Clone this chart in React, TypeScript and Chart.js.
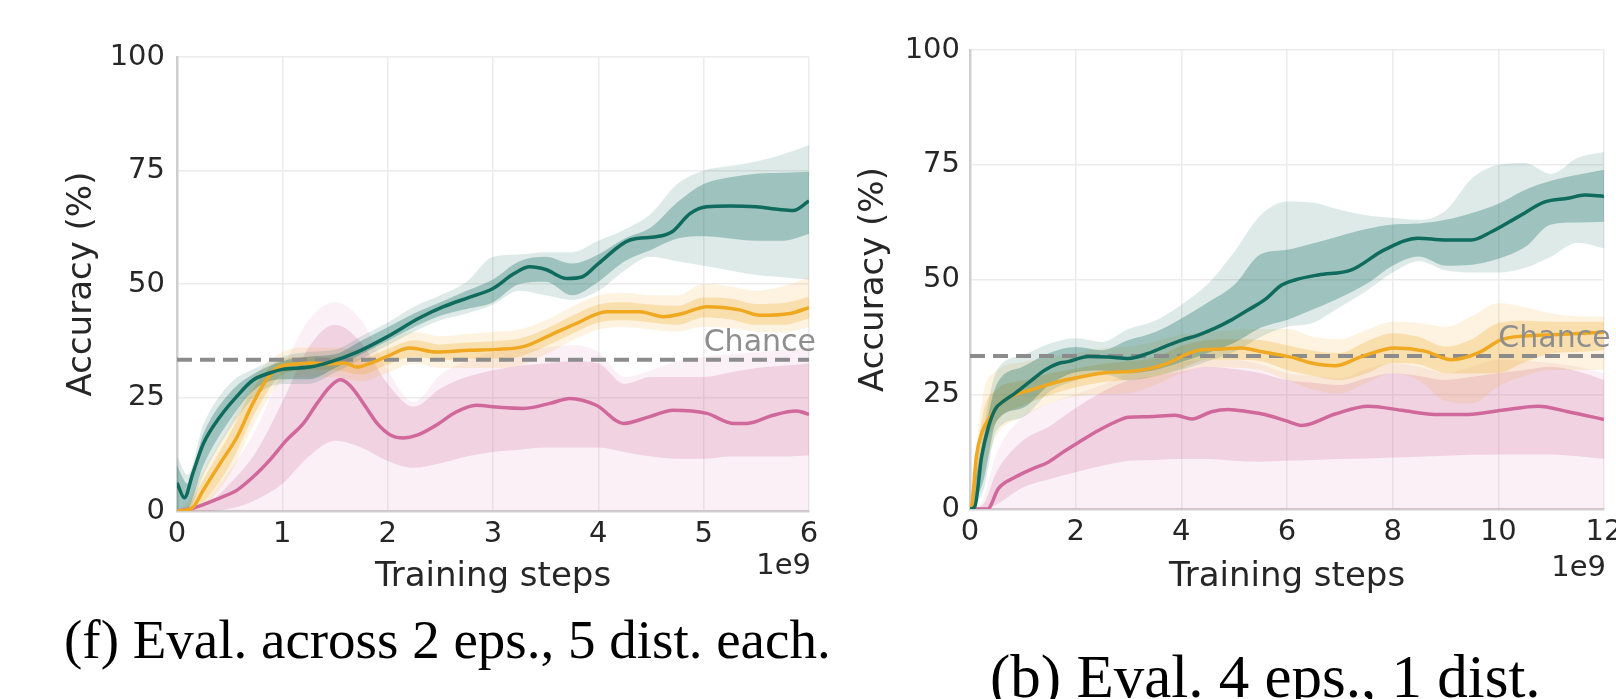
import React, { useEffect, useRef } from "react";
import Chart from "chart.js/auto";

// ---------- Panel (f): Eval. across 2 eps., 5 dist. each ----------
const fXTicks = [0, 1, 2, 3, 4, 5, 6];
const yTicks = [0, 25, 50, 75, 100];
const chanceLevel = 33.33;

const fGreenX = [0, 0.07, 0.15, 0.25, 0.41, 0.57, 0.72, 0.88, 1.0, 1.26, 1.45, 1.71, 1.99, 2.3, 2.53, 2.78, 3.0, 3.2, 3.35, 3.5, 3.7, 3.85, 4.0, 4.3, 4.55, 4.7, 4.87, 5.03, 5.25, 5.5, 5.72, 5.85, 6.0];
const fGreenY = [6.2, 2.9, 8.3, 14.8, 20.8, 25.3, 28.8, 30.4, 31.2, 31.7, 32.8, 35, 38.3, 42.5, 45, 47.1, 49, 52.3, 53.8, 53.2, 51.2, 51.6, 54.5, 59.7, 60.4, 61.5, 65.5, 67, 67.2, 67, 66.4, 66.2, 68.3];

const fOrangeX = [0, 0.14, 0.25, 0.41, 0.57, 0.72, 0.85, 0.95, 1.14, 1.3, 1.43, 1.59, 1.71, 1.84, 1.99, 2.21, 2.46, 2.78, 3.03, 3.29, 3.54, 3.79, 4.08, 4.39, 4.62, 4.8, 5.03, 5.34, 5.53, 5.82, 6.0];
const fOrangeY = [0, 0.6, 4.6, 10.5, 16.3, 23.7, 28.9, 31.5, 32.4, 32.6, 32.4, 32.6, 31.7, 32.6, 34, 35.9, 35, 35.4, 35.6, 36.2, 38.7, 41.3, 43.9, 43.9, 42.8, 43.5, 45, 44.3, 43.1, 43.5, 44.8];

const fPinkX = [0, 0.15, 0.41, 0.57, 0.76, 0.88, 1.04, 1.2, 1.33, 1.45, 1.55, 1.64, 1.77, 1.9, 2.03, 2.15, 2.28, 2.46, 2.65, 2.84, 3.03, 3.29, 3.54, 3.73, 3.98, 4.24, 4.49, 4.71, 5.03, 5.28, 5.41, 5.66, 5.88, 6.0];
const fPinkY = [0, 0.6, 2.9, 4.6, 8.3, 11.2, 15.6, 19.3, 23.7, 27.3, 28.9, 27.7, 23.7, 19.3, 16.7, 16.1, 16.7, 18.9, 21.8, 23.3, 22.9, 22.6, 23.7, 24.8, 23.3, 19.3, 20.8, 22.2, 21.5, 19.3, 19.3, 21.1, 22, 21.3];

const fBandX = [0, 0.1, 0.25, 0.5, 0.75, 1.0, 1.25, 1.5, 1.75, 2.0, 2.25, 2.5, 2.75, 3.0, 3.25, 3.5, 3.75, 4.0, 4.25, 4.5, 4.75, 5.0, 5.25, 5.5, 5.75, 6.0];
const fGreenInLo = [0, 0.5, 10, 20, 27, 29, 29, 31.5, 34.5, 37.5, 40.5, 43, 44.5, 46, 50, 50.5, 47.5, 50.5, 55, 57.5, 60, 60.5, 60, 59.5, 59.5, 61];
const fGreenInHi = [10, 6, 17, 26, 30.5, 33, 34, 34.5, 37.5, 40.5, 43.5, 46, 48.5, 51, 55, 56, 54.5, 56.5, 60, 62.5, 68, 72, 73.5, 74.3, 74.5, 74.7];
const fGreenOutLo = [0, 0, 8, 18, 25.5, 28, 28, 30.5, 33.5, 36.5, 39.5, 42, 43.5, 45.5, 48.5, 47.5, 46.5, 48.5, 53, 56, 55, 54, 53, 52, 51.5, 51];
const fGreenOutHi = [12, 8, 19, 28, 31.5, 34, 35, 35.5, 38.5, 41.5, 45, 47.5, 50.5, 56, 56.5, 57, 57, 59.5, 62, 65.5, 72, 75, 76, 77, 78.5, 80.6];

const fOrangeInLo = [0, 0, 2, 10, 22, 30, 31, 31, 30, 32.3, 34, 33.3, 33.5, 33.6, 34, 36.3, 39, 41.5, 42, 41.5, 41, 42.6, 42.2, 41, 41, 42.4];
const fOrangeInHi = [0, 1, 7, 17, 28, 33.5, 34, 34, 33.6, 35.7, 37.6, 36.7, 37.1, 37.4, 38, 40.1, 43, 45.5, 46, 45.5, 45.2, 47, 46.8, 45.6, 45.8, 47.2];
const fOrangeOutLo = [0, 0, 1, 8, 20, 28.5, 29.5, 29.5, 28.5, 30.5, 32.5, 31.5, 31.5, 31.5, 32, 34.5, 37.5, 40, 40.5, 40, 39.5, 40.6, 40.3, 39.5, 39.3, 40.5];
const fOrangeOutHi = [0, 2, 9, 19, 30, 35, 36, 36, 35.5, 37.5, 39.5, 38.5, 39, 39.5, 40, 42, 45, 47.5, 48, 47.5, 47.5, 50, 49.5, 48.5, 49.5, 51.5];

const fPinkInLo = [0, 0, 0, 0.5, 2.5, 6, 12, 15.5, 14, 11, 9.5, 10.5, 12, 13, 13.5, 14, 14, 14, 13, 12, 11.5, 11.5, 12, 12, 12, 12.3];
const fPinkInHi = [0, 0, 1, 6, 13, 24, 36, 41, 37, 28, 23, 27, 29.5, 31, 32, 32.5, 33, 32.5, 28, 29.5, 29.5, 29.5, 30.5, 31.5, 32, 32.5];
const fPinkOutLo = [0, 0, 0, 0, 0, 0, 0, 0, 0, 0, 0, 0, 0, 0, 0, 0, 0, 0, 0, 0, 0, 0, 0, 0, 0, 0];
const fPinkOutHi = [0, 0, 2, 9, 18, 31, 42, 46, 42, 31, 24, 30, 33, 35, 35.5, 36, 36.5, 35, 29.5, 31, 33, 34, 34.5, 35, 35.5, 36];

// ---------- Panel (b): Eval. 4 eps., 1 dist. ----------
const bXTicks = [0, 2, 4, 6, 8, 10, 12];

const bGreenX = [0, 0.09, 0.22, 0.35, 0.47, 0.66, 0.85, 1.17, 1.42, 1.67, 1.86, 2.24, 2.62, 3.0, 3.37, 3.69, 4.01, 4.32, 4.64, 4.95, 5.27, 5.58, 5.9, 6.15, 6.59, 7.22, 7.85, 8.48, 8.99, 9.49, 9.87, 10.38, 10.88, 11.32, 11.64, 12];
const bGreenY = [0, 0.5, 11.4, 17.9, 21.6, 23.7, 25.2, 28.1, 30.3, 31.7, 32.1, 33.2, 33.1, 32.8, 33.9, 35.4, 36.8, 37.9, 39.4, 41.2, 43.4, 45.6, 48.8, 49.9, 51, 52.1, 56.5, 59, 58.6, 58.6, 60.4, 63.7, 66.9, 67.7, 68.4, 68.1];

const bOrangeX = [0, 0.03, 0.12, 0.22, 0.39, 0.58, 0.85, 1.17, 1.48, 1.8, 2.11, 2.55, 3.06, 3.44, 3.75, 4.07, 4.39, 4.7, 5.14, 5.46, 5.84, 6.15, 6.46, 6.91, 7.41, 8.04, 8.61, 9.11, 9.62, 10.06, 10.5, 11.13, 12];
const bOrangeY = [0, 0.4, 11.4, 16.5, 20.2, 23.1, 24.9, 26, 27.1, 28.1, 28.8, 29.7, 30, 30.7, 31.8, 33.6, 34.7, 34.8, 35.1, 34.4, 33.6, 32.9, 31.8, 31.2, 33.2, 35.1, 34.4, 32.5, 34, 36.9, 37.7, 38, 38.5];

const bPinkX = [0, 0.33, 0.54, 0.85, 1.17, 1.48, 1.8, 2.11, 2.43, 2.74, 3.0, 3.37, 3.88, 4.2, 4.57, 4.89, 5.27, 5.58, 5.96, 6.28, 6.91, 7.54, 8.17, 8.8, 9.43, 10.06, 10.75, 11.32, 12];
const bPinkY = [0, 0, 4.5, 6.9, 8.7, 10.2, 12.7, 14.9, 17.1, 18.9, 20, 20.1, 20.4, 19.6, 21.2, 21.7, 21.2, 20.6, 19.3, 18.2, 20.7, 22.4, 21.5, 20.6, 20.6, 21.5, 22.4, 21.2, 19.5];

const bBandX = [0, 0.25, 0.5, 1, 1.5, 2, 2.5, 3, 3.5, 4, 4.5, 5, 5.5, 6, 6.5, 7, 7.5, 8, 8.5, 9, 9.5, 10, 10.5, 11, 11.5, 12];
const bGreenInLo = [0, 6, 19, 22, 27, 29.8, 30.2, 29.6, 30.3, 32, 34, 36.2, 39.5, 41.2, 43.5, 46, 49, 53, 55, 53, 53.2, 54.5, 57, 62, 62.4, 62.6];
const bGreenInHi = [0, 15, 27, 31, 34, 35.3, 34.6, 36.8, 38.5, 41.5, 45, 48.8, 55.5, 56.5, 57.9, 59.5, 61, 62, 62.2, 63, 64.5, 66.5, 69.5, 71.5, 72.8, 73.9];
const bGreenOutLo = [0, 4, 17, 20, 25.5, 28, 29.4, 28, 29, 30.3, 32.2, 34.2, 37.5, 39.7, 40.6, 44, 47.5, 51.5, 54, 52, 51.5, 51.5, 52.5, 55, 58, 56.8];
const bGreenOutHi = [0, 17, 30, 33.5, 36, 37.2, 36.4, 39.2, 41, 44.5, 49, 56, 64, 67, 66.7, 65.2, 64, 63.4, 63, 65, 72, 75, 75.4, 73, 76.5, 77.8];

const bOrangeInLo = [0, 12, 19, 22.5, 24.8, 26.5, 27.6, 28.1, 28.8, 30.6, 32.5, 32.5, 32.2, 30.3, 29, 28.1, 29.5, 31.8, 31.5, 29.6, 29.5, 29.6, 32, 33.9, 34.2, 34.6];
const bOrangeInHi = [0, 21, 26, 28, 29.5, 30.6, 31.6, 32.2, 33, 35.5, 36.8, 37, 36.8, 35.7, 34.5, 34, 36.5, 38.3, 37.5, 35.4, 37, 40.5, 41, 40.8, 40.8, 40.8];
const bOrangeOutLo = [0, 8, 16, 20, 23, 24.5, 25, 25.2, 27, 29.6, 31, 30.8, 30.3, 28.1, 26, 25.2, 27.5, 29.6, 28, 23.5, 23, 26.7, 29, 30.3, 30.3, 30.3];
const bOrangeOutHi = [0, 25, 30, 32, 33, 34, 35, 35.4, 36.5, 38, 38.5, 39, 39.2, 39.2, 37.5, 37, 39, 40.8, 40.5, 39.7, 42, 44.9, 44, 42.6, 42, 41.9];

const bPinkInLo = [0, 0, 1, 4.7, 6.5, 8, 9.4, 10.5, 10.7, 10.9, 10.9, 10.5, 10.3, 10.5, 10.7, 10.9, 11, 11.2, 11.4, 11.6, 11.8, 11.9, 11.9, 11.9, 11.5, 10.9];
const bPinkInHi = [0, 1, 8, 14.9, 18, 22, 25.5, 28, 29, 30, 31, 30.5, 29.6, 28.1, 27.5, 27, 28.5, 29.6, 29, 28.1, 28.8, 29.6, 30.3, 31, 30, 28.1];
const bPinkOutLo = [0, 0, 0, 0, 0, 0, 0, 0, 0, 0, 0, 0, 0, 0, 0, 0, 0, 0, 0, 0, 0, 0, 0, 0, 0, 0];
const bPinkOutHi = [0, 2, 12, 20, 23, 25, 27, 29.6, 31, 32, 32.5, 32.5, 31.5, 29.6, 29, 28.5, 30.5, 31.8, 31, 29.6, 31, 32.5, 32.3, 31.8, 31, 29.6];

// ---------- styling ----------
const GREEN = "#0e6b5d";
const ORANGE = "#f0a820";
const PINK = "#d0689c";
const FONT = "'DejaVu Sans', sans-serif";
const TEXT = "#262626";

const pts = (xs: number[], ys: number[]) => xs.map((x, i) => ({ x, y: ys[i] }));

function bandPair(xs: number[], lo: number[], hi: number[], color: string) {
  const common = {
    type: "line" as const,
    borderWidth: 0,
    borderColor: "rgba(0,0,0,0)",
    pointRadius: 0,
    pointHoverRadius: 0,
    tension: 0.4,
    cubicInterpolationMode: "monotone" as const,
  };
  return [
    { ...common, data: pts(xs, hi), fill: false, backgroundColor: "rgba(0,0,0,0)" },
    { ...common, data: pts(xs, lo), fill: "-1", backgroundColor: color },
  ];
}

function meanLine(xs: number[], ys: number[], color: string) {
  return {
    type: "line" as const,
    data: pts(xs, ys),
    borderColor: color,
    borderWidth: 3.5,
    pointRadius: 0,
    fill: false,
    tension: 0.4,
    cubicInterpolationMode: "monotone" as const,
  };
}

interface PanelSpec {
  width: number;
  height: number;
  padTop: number;
  padRight: number;
  yAxisWidth: number;
  xAxisHeight: number;
  xMax: number;
  xTicks: number[];
  yTitlePad: number;
  xTitlePad: number;
  yTickPad: number;
  e9Y: number;
  chanceX: number;
  datasets: any[];
}

function makeAnnot(spec: PanelSpec) {
  return {
    id: "annot",
    afterDraw(chart: any) {
      const { ctx, chartArea, scales } = chart;
      ctx.save();
      ctx.font = `30px ${FONT}`;
      ctx.fillStyle = "#8e8e8e";
      ctx.textAlign = "left";
      ctx.textBaseline = "alphabetic";
      ctx.fillText("Chance", scales.x.getPixelForValue(spec.chanceX), scales.y.getPixelForValue(chanceLevel) - 9);
      ctx.font = `29px ${FONT}`;
      ctx.fillStyle = TEXT;
      ctx.textAlign = "right";
      ctx.textBaseline = "middle";
      ctx.fillText("1e9", chartArea.right + 2, spec.e9Y);
      ctx.restore();
    },
  };
}

function Panel({ spec }: { spec: PanelSpec }) {
  const ref = useRef<HTMLCanvasElement | null>(null);
  useEffect(() => {
    if (!ref.current) return;
    const chart = new Chart(ref.current, {
      type: "line",
      data: { datasets: spec.datasets },
      options: {
        animation: false,
        responsive: false,
        maintainAspectRatio: false,
        events: [],
        layout: { padding: { top: spec.padTop, left: 0, right: spec.padRight, bottom: 0 } },
        plugins: {
          legend: { display: false },
          tooltip: { enabled: false },
          filler: { drawTime: "beforeDatasetsDraw" },
        },
        scales: {
          x: {
            type: "linear",
            min: 0,
            max: spec.xMax,
            afterBuildTicks: (s: any) => {
              s.ticks = spec.xTicks.map((v) => ({ value: v }));
            },
            afterFit: (s: any) => {
              s.height = spec.xAxisHeight;
            },
            ticks: {
              font: { family: FONT, size: 29, lineHeight: 1 },
              color: TEXT,
              padding: 9,
              maxRotation: 0,
              autoSkip: false,
              callback: (v: any) => String(v),
            },
            grid: { color: "#ececec", lineWidth: 1.5, drawTicks: false },
            border: { color: "#cfcfcf", width: 2.5 },
            title: {
              display: true,
              text: "Training steps",
              font: { family: FONT, size: 34, lineHeight: 1 },
              color: TEXT,
              padding: { top: 0, bottom: spec.xTitlePad },
            },
          },
          y: {
            type: "linear",
            min: 0,
            max: 100,
            afterBuildTicks: (s: any) => {
              s.ticks = yTicks.map((v) => ({ value: v }));
            },
            afterFit: (s: any) => {
              s.width = spec.yAxisWidth;
            },
            ticks: {
              font: { family: FONT, size: 29, lineHeight: 1 },
              color: TEXT,
              padding: spec.yTickPad,
              callback: (v: any) => String(v),
            },
            grid: { color: "#ececec", lineWidth: 1.5, drawTicks: false },
            border: { color: "#cfcfcf", width: 2.5 },
            title: {
              display: true,
              text: "Accuracy (%)",
              font: { family: FONT, size: 34, lineHeight: 1 },
              color: TEXT,
              padding: { top: spec.yTitlePad, bottom: 0 },
            },
          },
        },
      },
      plugins: [makeAnnot(spec)],
    } as any);
    return () => chart.destroy();
  }, [spec]);
  return (
    <canvas
      ref={ref}
      width={spec.width}
      height={spec.height}
      style={{ width: spec.width, height: spec.height, display: "block" }}
    />
  );
}

function buildDatasets(
  xMax: number,
  g: [number[], number[]], o: [number[], number[]], p: [number[], number[]],
  bandX: number[],
  gb: number[][], ob: number[][], pb: number[][]
) {
  return [
    meanLine(g[0], g[1], GREEN),
    meanLine(o[0], o[1], ORANGE),
    meanLine(p[0], p[1], PINK),
    {
      type: "line",
      data: [{ x: 0, y: chanceLevel }, { x: xMax, y: chanceLevel }],
      borderColor: "#8c8c8c",
      borderWidth: 4,
      borderDash: [15, 8],
      pointRadius: 0,
      fill: false,
    },
    ...bandPair(bandX, gb[2], gb[3], "rgba(14,107,93,0.14)"),
    ...bandPair(bandX, gb[0], gb[1], "rgba(14,107,93,0.30)"),
    ...bandPair(bandX, ob[2], ob[3], "rgba(240,168,32,0.14)"),
    ...bandPair(bandX, ob[0], ob[1], "rgba(240,168,32,0.26)"),
    ...bandPair(bandX, pb[2], pb[3], "rgba(208,104,156,0.10)"),
    ...bandPair(bandX, pb[0], pb[1], "rgba(208,104,156,0.22)"),
  ];
}

const specF: PanelSpec = {
  width: 840,
  height: 600,
  padTop: 57,
  padRight: 31,
  yAxisWidth: 177,
  xAxisHeight: 89,
  xMax: 6,
  xTicks: fXTicks,
  yTitlePad: 65,
  xTitlePad: 6,
  yTickPad: 12,
  e9Y: 566,
  chanceX: 5,
  datasets: buildDatasets(
    6,
    [fGreenX, fGreenY], [fOrangeX, fOrangeY], [fPinkX, fPinkY],
    fBandX,
    [fGreenInLo, fGreenInHi, fGreenOutLo, fGreenOutHi],
    [fOrangeInLo, fOrangeInHi, fOrangeOutLo, fOrangeOutHi],
    [fPinkInLo, fPinkInHi, fPinkOutLo, fPinkOutHi]
  ),
};

const specB: PanelSpec = {
  width: 900,
  height: 610,
  padTop: 50,
  padRight: 116,
  yAxisWidth: 150,
  xAxisHeight: 101,
  xMax: 12,
  xTicks: bXTicks,
  yTitlePad: 37,
  xTitlePad: 16,
  yTickPad: 10,
  e9Y: 568,
  chanceX: 10,
  datasets: buildDatasets(
    12,
    [bGreenX, bGreenY], [bOrangeX, bOrangeY], [bPinkX, bPinkY],
    bBandX,
    [bGreenInLo, bGreenInHi, bGreenOutLo, bGreenOutHi],
    [bOrangeInLo, bOrangeInHi, bOrangeOutLo, bOrangeOutHi],
    [bPinkInLo, bPinkInHi, bPinkOutLo, bPinkOutHi]
  ),
};

export default function App() {
  const serif = "'Liberation Serif', 'Times New Roman', serif";
  return (
    <div
      style={{
        position: "fixed",
        left: 0,
        top: 0,
        width: 1616,
        height: 699,
        overflow: "hidden",
        background: "#ffffff",
      }}
    >
      <div style={{ position: "absolute", left: 0, top: 0 }}>
        <Panel spec={specF} />
      </div>
      <div style={{ position: "absolute", left: 820, top: 0 }}>
        <Panel spec={specB} />
      </div>
      <div
        style={{
          position: "absolute",
          left: 64,
          top: 612,
          fontFamily: serif,
          fontSize: 55,
          lineHeight: "55px",
          color: "#000",
          whiteSpace: "nowrap",
        }}
      >
        (f) Eval. across 2 eps., 5 dist. each.
      </div>
      <div
        style={{
          position: "absolute",
          left: 990,
          top: 646,
          fontFamily: serif,
          fontSize: 61,
          lineHeight: "61px",
          color: "#000",
          whiteSpace: "nowrap",
        }}
      >
        (b) Eval. 4 eps., 1 dist.
      </div>
    </div>
  );
}
